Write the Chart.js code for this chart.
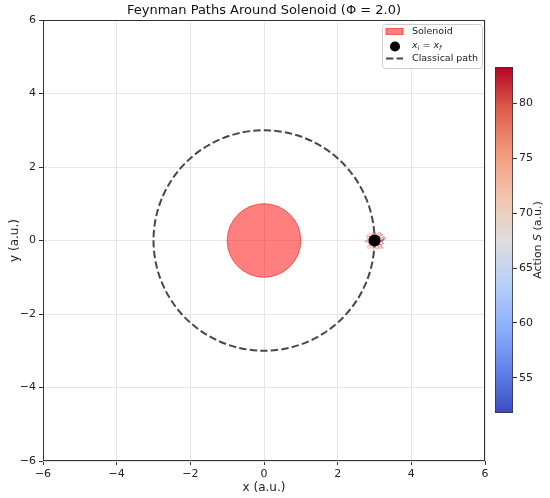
<!DOCTYPE html>
<html>
<head>
<meta charset="utf-8">
<title>Feynman Paths Around Solenoid</title>
<script src="https://cdn.jsdelivr.net/npm/chart.js@4.4.1/dist/chart.umd.min.js"></script>
<style>
  html, body { margin: 0; padding: 0; background: #fff; }
  #wrap { position: relative; width: 550px; height: 498px; }
  #main { position: absolute; left: 0; top: 0; }
  #cbar { position: absolute; left: 495px; top: 58px; }
</style>
</head>
<body>
<div id="wrap">
  <canvas id="main" width="550" height="498"></canvas>
  <canvas id="cbar" width="55" height="364"></canvas>
</div>
<script>
// ── DATA ───────────────────────────────────────────────────────
const axisTicks       = [-6, -4, -2, 0, 2, 4, 6];
const solenoidCenter  = [0, 0];
const solenoidRadius  = 1.0;
const classicalRadius = 3.0;
const endpoint        = [3.0, 0.0];

// sampled paths (x, y) that start and end at the endpoint
const paths = [
    [[3,0],[3.05,0.04],[3.09,0.02],[3.14,0.07],[3.1,0.12],[3.04,0.09],[2.99,0.13],[2.95,0.08],[2.97,0.03],[3,0]],
    [[3,0],[2.96,-0.03],[2.9,-0.01],[2.85,-0.06],[2.88,-0.11],[2.94,-0.09],[2.99,-0.14],[3.03,-0.08],[3.01,-0.03],[3,0]],
    [[3,0],[3.06,-0.02],[3.12,-0.05],[3.18,-0.02],[3.24,-0.08],[3.15,-0.12],[3.1,-0.09],[3.05,-0.11],[3.02,-0.05],[3,0]],
    [[3,0],[2.97,0.05],[2.92,0.1],[2.87,0.08],[2.8,0.13],[2.86,0.19],[2.92,0.15],[2.97,0.22],[3.01,0.1],[3,0]],
    [[3,0],[3.03,0.06],[3.08,0.1],[3.06,0.17],[3.13,0.23],[3.19,0.15],[3.13,0.08],[3.09,0.04],[3.04,0.02],[3,0]],
    [[3,0],[2.95,0.01],[2.89,0.04],[2.83,0.02],[2.75,-0.03],[2.84,-0.05],[2.9,-0.02],[2.95,-0.05],[2.98,-0.02],[3,0]],
    [[3,0],[3.02,-0.06],[2.98,-0.12],[3.03,-0.18],[3.08,-0.24],[3.12,-0.15],[3.08,-0.1],[3.06,-0.05],[3.02,-0.02],[3,0]],
    [[3,0],[3.07,0.01],[3.13,0.03],[3.19,0.01],[3.27,0.04],[3.2,-0.02],[3.14,-0.01],[3.08,-0.03],[3.03,-0.01],[3,0]],
    [[3,0],[2.97,-0.05],[2.93,-0.1],[2.89,-0.17],[2.81,-0.15],[2.88,-0.08],[2.92,-0.06],[2.96,-0.03],[3,0]],
    [[3,0],[3.01,0.05],[3.0,0.11],[3.04,0.16],[3.0,0.25],[2.96,0.17],[2.98,0.1],[2.97,0.05],[3,0]],
    [[3,0],[3.08,0.08],[3.15,0.12],[3.22,0.16],[3.16,0.2],[3.1,0.14],[3.04,0.07],[3,0]],
    [[3,0],[2.92,-0.08],[2.86,-0.13],[2.8,-0.2],[2.87,-0.22],[2.93,-0.15],[2.97,-0.07],[3,0]],
    [[3,0],[3.09,-0.07],[3.17,-0.13],[3.22,-0.2],[3.14,-0.21],[3.08,-0.14],[3.03,-0.06],[3,0]],
    [[3,0],[2.91,0.07],[2.84,0.12],[2.78,0.09],[2.83,0.04],[2.9,0.05],[2.96,0.02],[3,0]],
    [[3,0],[3.1,0.02],[3.18,0.06],[3.26,0.1],[3.24,0.02],[3.16,-0.04],[3.07,-0.02],[3,0]],
    [[3,0],[2.99,-0.08],[2.95,-0.16],[2.97,-0.26],[3.02,-0.2],[3.03,-0.11],[3.01,-0.05],[3,0]],
];
const pathActions   = [78.5, 80.2, 82.1, 76.9, 79.4, 81.0, 77.8, 83.0, 75.6, 80.8, 79.9, 74.8, 81.7, 77.2, 82.6, 76.3];
const actionMin     = 51.8;
const actionMax     = 83.3;
const colorbarTicks = [55, 60, 65, 70, 75, 80];

// ── COOLWARM COLORMAP ──────────────────────────────────────────
const COOLWARM = [
    [0.0,   [59, 76, 192]],
    [0.125, [98, 130, 234]],
    [0.25,  [141, 176, 254]],
    [0.375, [184, 208, 249]],
    [0.5,   [221, 221, 221]],
    [0.625, [245, 196, 173]],
    [0.75,  [244, 154, 123]],
    [0.875, [222, 96, 77]],
    [1.0,   [180, 4, 38]],
];

function coolwarm(t, alpha) {
    t = Math.min(1, Math.max(0, t));
    for (let i = 1; i < COOLWARM.length; i++) {
        const [t1, c1] = COOLWARM[i];
        const [t0, c0] = COOLWARM[i - 1];
        if (t <= t1) {
            const f = (t - t0) / (t1 - t0);
            const c = c0.map((v, k) => Math.round(v + f * (c1[k] - v)));
            return `rgba(${c[0]}, ${c[1]}, ${c[2]}, ${alpha})`;
        }
    }
    return `rgba(180, 4, 38, ${alpha})`;
}

const normAction = a => (a - actionMin) / (actionMax - actionMin);
const fmtTick = v => String(v).replace('-', '\u2212');
const unitPx  = chart => chart.scales.x.getPixelForValue(1) - chart.scales.x.getPixelForValue(0);

Chart.defaults.font.family = "'DejaVu Sans', sans-serif";
Chart.defaults.color = '#222';

const SOLENOID_FILL = 'rgba(255, 0, 0, 0.5)';
const SOLENOID_EDGE = 'rgba(235, 0, 0, 0.55)';
const CLASSICAL     = 'rgba(0, 0, 0, 0.72)';

// ── MAIN PLOT EXTRAS: classical orbit, frame, legend ───────────
const mainExtras = {
    id: 'mainExtras',
    beforeDatasetsDraw(chart) {
        const { ctx, scales: { x, y } } = chart;
        const cx = x.getPixelForValue(solenoidCenter[0]);
        const cy = y.getPixelForValue(solenoidCenter[1]);
        const rx = x.getPixelForValue(classicalRadius) - cx;
        const ry = cy - y.getPixelForValue(classicalRadius);
        ctx.save();
        ctx.beginPath();
        ctx.ellipse(cx, cy, rx, ry, 0, 0, Math.PI * 2);
        ctx.setLineDash([7.4, 3.2]);
        ctx.lineWidth = 2;
        ctx.strokeStyle = CLASSICAL;
        ctx.stroke();
        ctx.restore();
    },
    afterDatasetsDraw(chart) {
        const { ctx, chartArea: a } = chart;
        ctx.save();
        // frame
        ctx.strokeStyle = '#333';
        ctx.lineWidth = 1;
        ctx.strokeRect(a.left + 0.5, a.top + 0.5, a.right - a.left - 1, a.bottom - a.top - 1);

        // legend box
        const lx = a.right - 103, ly = a.top + 4, lw = 100, lh = 44;
        ctx.beginPath();
        ctx.roundRect(lx + 0.5, ly + 0.5, lw, lh, 3);
        ctx.fillStyle = 'rgba(255, 255, 255, 0.85)';
        ctx.fill();
        ctx.strokeStyle = '#cccccc';
        ctx.lineWidth = 1;
        ctx.stroke();

        const tx = lx + 30;
        ctx.textBaseline = 'middle';
        ctx.font = "9.5px 'DejaVu Sans'";

        // Solenoid patch
        ctx.fillStyle = SOLENOID_FILL;
        ctx.fillRect(lx + 4, ly + 4.5, 17, 6);
        ctx.strokeStyle = SOLENOID_EDGE;
        ctx.strokeRect(lx + 4, ly + 4.5, 17, 6);
        ctx.fillStyle = '#222';
        ctx.fillText('Solenoid', tx, ly + 7.5);

        // endpoint marker
        ctx.beginPath();
        ctx.arc(lx + 13, ly + 22.5, 5, 0, Math.PI * 2);
        ctx.fillStyle = '#000';
        ctx.fill();
        let px = tx;
        const yy = ly + 22;
        const parts = [
            ["italic 9.5px 'DejaVu Sans'", 'x', 0],
            ["italic 6.5px 'DejaVu Sans'", 'i', 2.5],
            ["9.5px 'DejaVu Sans'", ' = ', 0],
            ["italic 9.5px 'DejaVu Sans'", 'x', 0],
            ["italic 6.5px 'DejaVu Sans'", 'f', 2.5],
        ];
        ctx.fillStyle = '#222';
        parts.forEach(([f, s, dy]) => {
            ctx.font = f;
            ctx.fillText(s, px, yy + dy);
            px += ctx.measureText(s).width;
        });

        // classical path line
        ctx.beginPath();
        ctx.moveTo(lx + 4, ly + 34.5);
        ctx.lineTo(lx + 21, ly + 34.5);
        ctx.setLineDash([7.4, 3.2]);
        ctx.lineWidth = 2;
        ctx.strokeStyle = CLASSICAL;
        ctx.stroke();
        ctx.setLineDash([]);
        ctx.font = "9.5px 'DejaVu Sans'";
        ctx.fillText('Classical path', tx, ly + 34.5);
        ctx.restore();
    }
};

// ── MAIN CHART ─────────────────────────────────────────────────
const pathDatasets = paths.map((pts, i) => ({
    type: 'line',
    data: pts.map(p => ({ x: p[0], y: p[1] })),
    showLine: true,
    borderColor: coolwarm(normAction(pathActions[i]), 0.45),
    borderWidth: 1.2,
    pointRadius: 0,
    fill: false,
    tension: 0,
    order: 2,
}));

new Chart(document.getElementById('main'), {
    type: 'scatter',
    data: {
        datasets: [
            {
                label: 'Solenoid',
                data: [{ x: solenoidCenter[0], y: solenoidCenter[1] }],
                pointRadius: ctx => unitPx(ctx.chart) * solenoidRadius,
                backgroundColor: SOLENOID_FILL,
                borderColor: SOLENOID_EDGE,
                borderWidth: 1,
                order: 3,
            },
            ...pathDatasets,
            {
                label: 'x_i = x_f',
                data: [{ x: endpoint[0], y: endpoint[1] }],
                pointRadius: 6,
                backgroundColor: '#000',
                borderWidth: 0,
                order: 0,
            },
        ],
    },
    options: {
        responsive: false,
        animation: false,
        events: [],
        layout: { padding: { left: 0, right: 65, top: 0, bottom: 0 } },
        plugins: {
            legend: { display: false },
            tooltip: { enabled: false },
            title: {
                display: true,
                fullSize: false,
                text: 'Feynman Paths Around Solenoid (\u03A6 = 2.0)',
                color: '#111',
                font: { size: 13, weight: 'normal' },
                padding: { top: 2.4, bottom: 2 },
            },
        },
        scales: {
            x: {
                type: 'linear',
                min: -6, max: 6,
                afterBuildTicks: s => { s.ticks = axisTicks.map(v => ({ value: v })); },
                afterFit: s => { s.height = 37; },
                grid: { color: '#e6e6e6', tickColor: '#333', tickLength: 4 },
                border: { display: false },
                ticks: { font: { size: 11 }, padding: 3, maxRotation: 0, callback: fmtTick },
                title: { display: true, text: 'x (a.u.)', font: { size: 12 }, padding: { top: 0, bottom: 3 } },
            },
            y: {
                type: 'linear',
                min: -6, max: 6,
                afterBuildTicks: s => { s.ticks = axisTicks.map(v => ({ value: v })); },
                afterFit: s => { s.width = 43; },
                grid: { color: '#e6e6e6', tickColor: '#333', tickLength: 4 },
                border: { display: false },
                ticks: { font: { size: 11 }, padding: 3, callback: fmtTick },
                title: { display: true, text: 'y (a.u.)', font: { size: 12 }, padding: { top: 8, bottom: 0 } },
            },
        },
    },
    plugins: [mainExtras],
});

// ── COLORBAR ───────────────────────────────────────────────────
const cbarExtras = {
    id: 'cbarExtras',
    afterDatasetsDraw(chart) {
        const { ctx, chartArea: a } = chart;
        ctx.save();
        ctx.strokeStyle = '#333';
        ctx.lineWidth = 0.8;
        ctx.strokeRect(a.left + 0.5, a.top + 0.5, a.right - a.left - 1, a.bottom - a.top - 1);

        // rotated label "Action S (a.u.)"
        const parts = [
            ["11px 'DejaVu Sans'", 'Action '],
            ["italic 11px 'DejaVu Sans'", 'S'],
            ["11px 'DejaVu Sans'", ' (a.u.)'],
        ];
        let total = 0;
        parts.forEach(([f, s]) => { ctx.font = f; total += ctx.measureText(s).width; });
        ctx.translate(43, (a.top + a.bottom) / 2);
        ctx.rotate(-Math.PI / 2);
        ctx.textBaseline = 'middle';
        ctx.fillStyle = '#222';
        let px = -total / 2;
        parts.forEach(([f, s]) => {
            ctx.font = f;
            ctx.fillText(s, px, 0);
            px += ctx.measureText(s).width;
        });
        ctx.restore();
    }
};

new Chart(document.getElementById('cbar'), {
    type: 'bar',
    data: {
        labels: ['S'],
        datasets: [{
            data: [[actionMin, actionMax]],
            backgroundColor: ctx => {
                const area = ctx.chart.chartArea;
                if (!area) return '#ddd';
                const g = ctx.chart.ctx.createLinearGradient(0, area.bottom, 0, area.top);
                COOLWARM.forEach(([t, c]) => g.addColorStop(t, `rgb(${c[0]}, ${c[1]}, ${c[2]})`));
                return g;
            },
            borderWidth: 0,
            barPercentage: 1,
            categoryPercentage: 1,
        }],
    },
    options: {
        responsive: false,
        animation: false,
        events: [],
        layout: { padding: { left: 0, right: 0, top: 9, bottom: 9 } },
        plugins: { legend: { display: false }, tooltip: { enabled: false } },
        scales: {
            x: { display: false },
            y: {
                position: 'right',
                min: actionMin, max: actionMax,
                afterBuildTicks: s => { s.ticks = colorbarTicks.map(v => ({ value: v })); },
                afterFit: s => { s.width = 37; },
                grid: { drawOnChartArea: false, tickColor: '#333', tickLength: 4 },
                border: { display: false },
                ticks: { font: { size: 11 }, padding: 2 },
            },
        },
    },
    plugins: [cbarExtras],
});
</script>
</body>
</html>
